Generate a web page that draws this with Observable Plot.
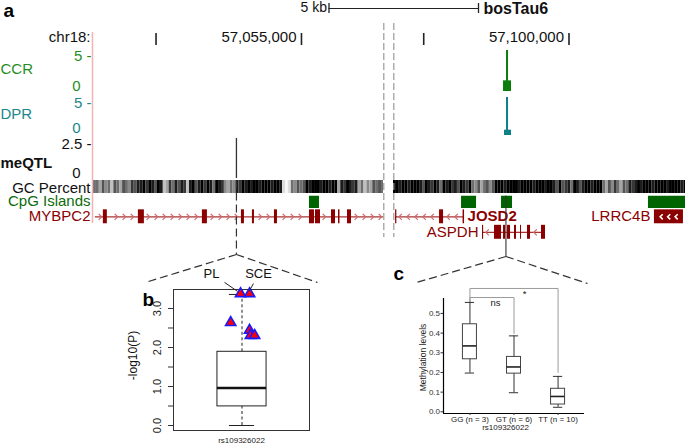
<!DOCTYPE html>
<html>
<head>
<meta charset="utf-8">
<script src="https://cdn.jsdelivr.net/npm/d3@7"></script>
<script src="https://cdn.jsdelivr.net/npm/@observablehq/plot@0.6"></script>
<style>
html,body{margin:0;padding:0;background:#fff;}
#fig{position:relative;width:685px;height:446px;overflow:hidden;background:#fff;}
</style>
</head>
<body>
<div id="fig"></div>
<script>
// ======================= DATA =======================
// Genome browser (bosTau6, chr18) – two visible windows separated by a break
const xDomain = [57047850, 57057820, 57093960, 57104010];
const rulerTicks = [57050000, 57055000, 57095000, 57100000];
const rulerLabels = [57055000, 57100000];

const ccr = [
  {start: 57097747, end: 57097850, value: 1.3},
  {start: 57097850, end: 57097919, value: 6.0},
  {start: 57097919, end: 57098022, value: 1.3}
];
const dpr = [
  {start: 57097781, end: 57097850, value: 0.7},
  {start: 57097850, end: 57097919, value: 6.0},
  {start: 57097919, end: 57098022, value: 0.7}
];
const meqtl = [{pos: 57052764, value: 3.36}];

// GC percent, 100-bp bins, darkness 0 (light) .. 9 (dark)
const gcStep = 100;
const gcLeftStart = 57047850;
const gcLeft  = "5536452653654768897986982375868728968979859874354879898998999899810154656989998998993879878352436565";
const gcRightStart = 57093960;
const gcRight = "99899899986987985989786987954635646999899998999989998998696785986899899953647536587898999899998999989898";

const cpgIslands = [
  {start: 57055275, end: 57055619},
  {start: 57096302, end: 57096818},
  {start: 57097678, end: 57098056},
  {start: 57102735, end: 57104010}
];

const genes = [
  {name: "MYBPC2", row: 1, strand: "+", start: 57047914, end: 57057820,
   exons: [[57048189,57048326],[57049393,57049599],[57051594,57051766],[57052936,57053039],
           [57053314,57053383],[57054071,57054174],[57055275,57055447],[57055482,57055654],
           [57056032,57056170],[57056273,57056324],[57056582,57056720]]},
  {name: "JOSD2", row: 1, strand: "-", start: 57094032, end: 57096405,
   exons: [[57094032,57094075],[57095545,57095683],[57096355,57096405]]},
  {name: "ASPDH", row: 2, strand: "-", start: 57097024, end: 57099192,
   exons: [[57097024,57097062],[57097437,57097678],[57097747,57097816],[57097884,57097988],
           [57098125,57098194],[57098332,57098366],[57098572,57098676],[57099054,57099192]]},
  {name: "LRRC4B", row: 1, strand: "-", start: 57102941, end: 57103939,
   exons: [[57102941,57103939]]}
];
const highlightedGene = "JOSD2";
const zoomedRegion = 57097830;   // CpG region expanded in panel c

// Panel b: -log10(P) of rs109326022 across tissues
const pvalBox = {x: 1, lo: 0.0, q1: 0.49, median: 0.96, q3: 1.89, hi: 3.36};
const pvalHits = [
  {x: 0.988, p: 3.38, tissue: "PL"},
  {x: 1.060, p: 3.38, tissue: "SCE"},
  {x: 0.910, p: 2.64},
  {x: 1.060, p: 2.44},
  {x: 1.067, p: 2.31},
  {x: 1.100, p: 2.31}
];
const pvalTicks = [0, 0.5, 1, 1.5, 2, 2.5, 3];
const pvalTickLabels = [0, 1, 2, 3];
const hitLabels = [
  {tissue: "PL",  lx: 0.758, ly: 3.90, ax: 0.861, ay: 3.67, bx: 0.964, by: 3.44},
  {tissue: "SCE", lx: 1.131, ly: 3.90, ax: 1.091, ay: 3.64, bx: 1.060, by: 3.46}
];

// Panel c: methylation levels by genotype
const genotypes = ["GG", "GT", "TT"];
const genotypeN = [3, 6, 10];
const methMin    = [0.197, 0.097, 0.023];
const methQ1     = [0.267, 0.194, 0.037];
const methMedian = [0.335, 0.228, 0.078];
const methQ3     = [0.445, 0.279, 0.117];
const methMax    = [0.556, 0.386, 0.180];
const methTicks  = [0, 0.1, 0.2, 0.3, 0.4, 0.5];
const comparisons = [
  {a: 1, b: 3, y: 0.627, ya: 0.556, yb: 0.200, label: "*",  lx: 2.24, ly: 0.600},
  {a: 1, b: 2, y: 0.581, ya: 0.556, yb: 0.398, label: "ns", lx: 1.58, ly: 0.551}
];

// ======================= LAYOUT / STYLE =======================
const FONT = "'Liberation Sans', Arial, Helvetica, sans-serif";
const windows = [
  {domain: [xDomain[0], xDomain[1]], range: [93, 383]},
  {domain: [xDomain[2], xDomain[3]], range: [393, 685]}
];
const CCR_COL = "#1f8f1f", CCR_PEAK = "#0a7d0a";
const DPR_COL = "#20878c", DPR_PEAK = "#0e7f86";
const CPG_COL = "#006400", CPG_LAB = "#0b6b0b";
const GENE = "#8b0000", GENE_LINE = "#a83232", CHEV = "#cc6a6a";

const fig = document.getElementById("fig");
function place(svg, left, top) {
  svg.style.position = "absolute";
  svg.style.left = left + "px";
  svg.style.top = top + "px";
  svg.style.overflow = "visible";
  svg.style.background = "transparent";
  svg.style.maxWidth = "none";
  svg.setAttribute("font-family", FONT);
  svg.style.fontFamily = FONT;
  fig.appendChild(svg);
  return svg;
}
const winScales = windows.map(w => Plot.scale({x: {domain: w.domain, range: w.range}}));
function xpos(p) { return winScales[p <= xDomain[1] ? 0 : 1].apply(p); }
const bpPerPx = (windows[0].domain[1] - windows[0].domain[0]) / (windows[0].range[1] - windows[0].range[0]);
function inWindow(w) {
  return d => {
    const s = typeof d === "number" ? d : (d.start ?? d.pos);
    const e = typeof d === "number" ? d : (d.end ?? d.pos);
    return e >= w.domain[0] && s <= w.domain[1];
  };
}
// each track = one Plot per visible window, stacked at the same place
function track(top, height, o) {
  windows.forEach((w, k) => {
    const svg = Plot.plot({
      width: 685, height,
      marginLeft: w.range[0], marginRight: 685 - w.range[1],
      marginTop: o.mt ?? 0, marginBottom: o.mb ?? 0,
      x: {domain: w.domain, range: w.range, axis: null},
      y: o.y ? {...o.y, axis: null} : {axis: null},
      color: o.color,
      marks: o.marks(inWindow(w), k === 0)
    });
    place(svg, 0, top);
  });
}

// ---------- ruler ----------
track(25, 23, {mt: 8, mb: 3, marks: (f, first) => [
  Plot.tickX(rulerTicks.filter(f), {x: d => d, stroke: "#222", strokeWidth: 1.6}),
  Plot.text(rulerLabels.filter(f), {x: d => d, text: d => d3.format(",")(d), frameAnchor: "bottom",
    textAnchor: "end", dx: -5, dy: -4, fontSize: 15, fill: "#111"}),
  ...(first ? [Plot.text(["chr18:"], {text: d => d, frameAnchor: "bottom-left", textAnchor: "end",
    dx: -3, dy: -4, fontSize: 15, fill: "#111"})] : [])
]});

// ---------- signal tracks ----------
function signalTrack(top, h, data, ymax, yRange, name, col, peak, nameDy, zeroDy, bold) {
  track(top, h, {y: {domain: [0, ymax], range: yRange, clamp: true}, marks: (f, first) => [
    data[0].start !== undefined
      ? Plot.rect(data.filter(f), {x1: "start", x2: "end", y1: 0, y2: "value", fill: peak, clip: true})
      : Plot.ruleX(data.filter(f), {x: "pos", y1: 0, y2: "value", stroke: peak, strokeWidth: 1.3, clip: true}),
    ...(first ? [
      Plot.text([name], {text: d => d, frameAnchor: "left", textAnchor: "start", dx: -93, dy: nameDy,
        fill: col, fontSize: 15, fontWeight: bold ? "bold" : "normal"}),
      Plot.text([ymax], {y: d => d, text: d => d + " -", frameAnchor: "left",
        textAnchor: "end", lineAnchor: "top", dx: -2, fill: col, fontSize: 15}),
      Plot.text([0], {y: d => d, text: d => String(d), frameAnchor: "left", textAnchor: "end",
        dx: -13, dy: zeroDy, fill: col, fontSize: 15})
    ] : [])
  ]});
}
signalTrack(48, 45, ccr, 5, [43, 2], "CCR", CCR_COL, CCR_PEAK, -2, -5, false);
signalTrack(93, 44, dpr, 5, [42, 4], "DPR", DPR_COL, DPR_PEAK, -1.5, -7, false);
signalTrack(137, 42, meqtl, 2.5, [41, 1], "meQTL", "#111", "#333", 4.5, -5, true);

// ---------- GC percent ----------
const gcBins = [
  ...Array.from(gcLeft, (c, i) => ({start: gcLeftStart + i * gcStep, end: gcLeftStart + (i + 1) * gcStep, v: +c})),
  ...Array.from(gcRight, (c, i) => ({start: gcRightStart + i * gcStep, end: gcRightStart + (i + 1) * gcStep, v: +c}))
];
track(179, 15, {mt: 1, mb: 1, color: {type: "linear", domain: [0, 9], range: ["#f8f8f8", "#000000"]}, marks: (f, first) => [
  Plot.rect(gcBins.filter(f), {x1: "start", x2: "end", fill: "v", clip: true}),
  ...(first ? [Plot.text(["GC Percent"], {text: d => d, frameAnchor: "left", textAnchor: "end", dx: -3, dy: 1.5,
    fill: "#111", fontSize: 15})] : [])
]});

// ---------- CpG islands ----------
track(194, 15, {mt: 1.5, mb: 1, marks: (f, first) => [
  Plot.rect(cpgIslands.filter(f), {x1: "start", x2: "end", fill: CPG_COL, clip: true}),
  ...(first ? [Plot.text(["CpG Islands"], {text: d => d, frameAnchor: "left", textAnchor: "end", dx: -3, dy: -0.75,
    fill: CPG_LAB, fontSize: 15})] : [])
]});

// ---------- genes ----------
const exonRows = genes.flatMap(g => g.exons.map(([s, e]) => ({start: s, end: e, row: g.row})));
const chevrons = [];
for (const g of genes) {
  const step = 8 * bpPerPx;
  for (let p = g.start + step * 0.6; p < g.end - step * 0.3; p += step) {
    if (g.exons.some(([s, e]) => p > s - 2.5 * bpPerPx && p < e + 2.5 * bpPerPx)) continue;
    chevrons.push({pos: p, row: g.row, strand: g.strand, white: false});
  }
  for (const [s, e] of g.exons) {
    const w = (e - s) / bpPerPx;
    if (w > 20) {
      const n = Math.round((w - 6) / 7.5), mid = (s + e) / 2;
      for (let k = 0; k < n; k++) chevrons.push({pos: mid + (k - (n - 1) / 2) * 7.5 * bpPerPx, row: g.row, strand: g.strand, white: true});
    }
  }
}
const chevR = {draw(ctx, size) { const r = Math.sqrt(size / Math.PI); ctx.moveTo(-r * 0.5, -r); ctx.lineTo(r * 0.5, 0); ctx.lineTo(-r * 0.5, r); }};
const chevL = {draw(ctx, size) { const r = Math.sqrt(size / Math.PI); ctx.moveTo(r * 0.5, -r); ctx.lineTo(-r * 0.5, 0); ctx.lineTo(r * 0.5, r); }};
const marginGene = genes.filter(g => g.start <= xDomain[0] + 200);
const rightGene = genes.filter(g => g.name === highlightedGene);
const leftGene = genes.filter(g => !marginGene.includes(g) && !rightGene.includes(g));
track(209, 32, {y: {domain: [1, 2], range: [7.3, 22.8]}, marks: (f, first) => [
  Plot.ruleY(genes.filter(f), {y: "row", x1: "start", x2: "end", stroke: GENE_LINE, strokeWidth: 1.3, clip: true}),
  Plot.dot(chevrons.filter(f).filter(c => !c.white && c.strand === "+"), {x: "pos", y: "row", symbol: chevR, r: 3, stroke: CHEV, strokeWidth: 1.2, fill: "none", clip: true}),
  Plot.dot(chevrons.filter(f).filter(c => !c.white && c.strand === "-"), {x: "pos", y: "row", symbol: chevL, r: 3, stroke: CHEV, strokeWidth: 1.2, fill: "none", clip: true}),
  Plot.rect(exonRows.filter(f), {x1: "start", x2: "end", y1: d => d.row - 0.45, y2: d => d.row + 0.45, fill: GENE, clip: true}),
  Plot.dot(chevrons.filter(f).filter(c => c.white), {x: "pos", y: "row", symbol: chevL, r: 2.6, stroke: "white", strokeWidth: 1.6, fill: "none", clip: true}),
  ...(first ? [Plot.text(marginGene, {y: "row", text: "name", frameAnchor: "left", textAnchor: "end", dx: -3, dy: -0.5, fill: GENE, fontSize: 15})] : []),
  Plot.text(rightGene.filter(f), {x: "end", y: "row", text: "name", textAnchor: "start", dx: 3, dy: -0.5, fill: GENE, fontSize: 15, fontWeight: "bold"}),
  Plot.text(leftGene.filter(f), {x: "start", y: "row", text: "name", textAnchor: "end", dx: -4, dy: -0.5, fill: GENE, fontSize: 15})
]});

// ---------- panel b ----------
const svgB = Plot.plot({
  width: 200, height: 186, marginLeft: 53, marginRight: 11, marginTop: 29, marginBottom: 16,
  x: {domain: [0.456, 1.536], axis: null},
  y: {domain: [-0.128, 3.487], axis: null},
  marks: [
    Plot.axisY(pvalTicks, {tickSize: 5, tickFormat: () => "", label: null, stroke: "#333"}),
    Plot.text(pvalTickLabels, {y: d => d, text: d => d.toFixed(1), frameAnchor: "left", dx: -16,
      textAnchor: "middle", rotate: -90, fontSize: 11, fill: "#222"}),
    Plot.text(["-log10(P)"], {text: d => d, frameAnchor: "left", dx: -40, dy: -4.5, textAnchor: "middle",
      rotate: -90, fontSize: 12, fill: "#111"}),
    Plot.ruleX([pvalBox], {x: "x", y1: "q3", y2: "hi", stroke: "#222", strokeDasharray: "3,2.5"}),
    Plot.ruleX([pvalBox], {x: "x", y1: "lo", y2: "q1", stroke: "#222", strokeDasharray: "3,2.5"}),
    Plot.ruleY([pvalBox], {y: "hi", x1: d => d.x - 0.1, x2: d => d.x + 0.1, stroke: "#222"}),
    Plot.ruleY([pvalBox], {y: "lo", x1: d => d.x - 0.1, x2: d => d.x + 0.1, stroke: "#222"}),
    Plot.rect([pvalBox], {x1: d => d.x - 0.195, x2: d => d.x + 0.195, y1: "q1", y2: "q3", fill: "white", stroke: "#222"}),
    Plot.ruleY([pvalBox], {y: "median", x1: d => d.x - 0.195, x2: d => d.x + 0.195, stroke: "#111", strokeWidth: 2.5}),
    Plot.frame({stroke: "#333"}),
    Plot.dot(pvalHits, {x: "x", y: "p", symbol: "triangle", r: 3.8, fill: "#ff0000", stroke: "#1a1aff", strokeWidth: 1.6}),
    Plot.link(hitLabels, {x1: "ax", y1: "ay", x2: "bx", y2: "by", stroke: "#222"}),
    Plot.text(hitLabels, {x: "lx", y: "ly", text: "tissue", fontSize: 13, fill: "#111"}),
    Plot.text(["rs109326022"], {text: d => d, frameAnchor: "bottom", dy: 12, fontSize: 8, fill: "#222"})
  ]
});
place(svgB, 120, 260);

// ---------- panel c ----------
const boxC = genotypes.map((g, i) => ({i: i + 1, label: `${g} (n = ${genotypeN[i]})`,
  lo: methMin[i], q1: methQ1[i], med: methMedian[i], q3: methQ3[i], hi: methMax[i]}));
const bracketPts = comparisons.flatMap((c, k) => [
  {k, x: c.a, y: c.ya}, {k, x: c.a, y: c.y}, {k, x: c.b, y: c.y}, {k, x: c.b, y: c.yb}]);
const hw = 0.159, cw = 0.105;
const xDomC = [0.4, 3.6], yDomC = [-0.0086, 0.576];
const svgC = Plot.plot({
  width: 220, height: 176, marginLeft: 63, marginRight: 16, marginTop: 28, marginBottom: 33,
  x: {domain: xDomC, axis: null},
  y: {domain: yDomC, axis: null},
  marks: [
    Plot.line(bracketPts, {x: "x", y: "y", z: "k", stroke: "#9a9a9a", strokeWidth: 1}),
    Plot.text(comparisons, {x: "lx", y: "ly", text: "label", fontSize: 9.5, fill: "#222"}),
    Plot.ruleX(boxC, {x: "i", y1: "lo", y2: "hi", stroke: "#333"}),
    Plot.ruleY(boxC, {y: "hi", x1: d => d.i - cw, x2: d => d.i + cw, stroke: "#333"}),
    Plot.ruleY(boxC, {y: "lo", x1: d => d.i - cw, x2: d => d.i + cw, stroke: "#333"}),
    Plot.rect(boxC, {x1: d => d.i - hw, x2: d => d.i + hw, y1: "q1", y2: "q3", fill: "white", stroke: "#444"}),
    Plot.ruleY(boxC, {y: "med", x1: d => d.i - hw, x2: d => d.i + hw, stroke: "#222", strokeWidth: 1.6}),
    Plot.ruleX([xDomC[0]], {stroke: "#000", strokeWidth: 1.2}),
    Plot.ruleY([yDomC[0]], {stroke: "#000", strokeWidth: 1.2}),
    Plot.axisY(methTicks, {tickSize: 2.5, tickPadding: 1, tickFormat: d3.format(".1f"), fontSize: 8, label: null, fill: "#333", stroke: "#333"}),
    Plot.axisX(boxC.map(d => d.i), {tickSize: 2, tickPadding: 0.5, tickFormat: i => boxC[i - 1].label, fontSize: 8, label: null, fill: "#222", stroke: "#333"}),
    Plot.text(["rs109326022"], {text: d => d, frameAnchor: "bottom", dy: 16, dx: -8.5, fontSize: 8, fill: "#222"}),
    Plot.text(["Methylation levels"], {text: d => d, frameAnchor: "left", dx: -20, dy: 1.5, textAnchor: "middle",
      rotate: -90, fontSize: 8.5, fill: "#222"})
  ]
});
place(svgC, 380, 270);

// ---------- overlay: panel letters, scale bar, break lines, zoom connectors ----------
const snpX = xpos(meqtl[0].pos);
const cpgX = xpos(zoomedRegion);
const breakXs = [xpos(xDomain[1]) + 0.3, xpos(xDomain[2]) + 0.3];
const edgeX = xpos(xDomain[0]) - 1;
const panelLetters = [{t: "a", x: 3, y: 10}, {t: "b", x: 142, y: 299}, {t: "c", x: 393, y: 273}];
const scaleBar = {x1: 328.5, x2: 478, y: 8};
const connectors = [
  {x1: snpX, y1: 180, x2: snpX, y2: 254, dash: true},
  {x1: snpX, y1: 254, x2: 148, y2: 281, dash: true},
  {x1: snpX, y1: 254, x2: 317, y2: 282, dash: true},
  {x1: cpgX, y1: 195, x2: cpgX, y2: 256, dash: false},
  {x1: cpgX, y1: 256, x2: 416, y2: 282, dash: true},
  {x1: cpgX, y1: 256, x2: 587, y2: 283, dash: true}
];
const overlay = Plot.plot({
  width: 685, height: 446, margin: 0,
  x: {domain: [0, 685], range: [0, 685], axis: null},
  y: {domain: [0, 446], range: [0, 446], axis: null},
  marks: [
    Plot.ruleX([edgeX], {x: d => d, y1: 32, y2: 223, stroke: "#f4b3b3", strokeWidth: 1.5}),
    Plot.ruleX(breakXs, {x: d => d, y1: 23, y2: 237, stroke: "#9a9a9a", strokeWidth: 1.2, strokeDasharray: "7,3"}),
    Plot.link(connectors.filter(c => c.dash), {x1: "x1", y1: "y1", x2: "x2", y2: "y2", stroke: "#333", strokeWidth: 1.2, strokeDasharray: "8,4"}),
    Plot.link(connectors.filter(c => !c.dash), {x1: "x1", y1: "y1", x2: "x2", y2: "y2", stroke: "#333", strokeWidth: 1.1}),
    Plot.text(panelLetters, {x: "x", y: "y", text: "t", textAnchor: "start", fontSize: 19, fontWeight: "bold", fill: "#000"}),
    Plot.ruleY([scaleBar], {y: "y", x1: "x1", x2: "x2", stroke: "#222", strokeWidth: 1.2}),
    Plot.ruleX([scaleBar.x1, scaleBar.x2], {x: d => d, y1: scaleBar.y - 5, y2: scaleBar.y + 5, stroke: "#222", strokeWidth: 1.3}),
    Plot.text([scaleBar], {x: "x1", y: "y", text: () => "5 kb", textAnchor: "end", dx: -2, dy: -0.5, fontSize: 14, fill: "#111"}),
    Plot.text([scaleBar], {x: "x2", y: "y", text: () => "bosTau6", textAnchor: "start", dx: 5, fontSize: 16, fontWeight: "bold", fill: "#111"})
  ]
});
place(overlay, 0, 0);
</script>
</body>
</html>
